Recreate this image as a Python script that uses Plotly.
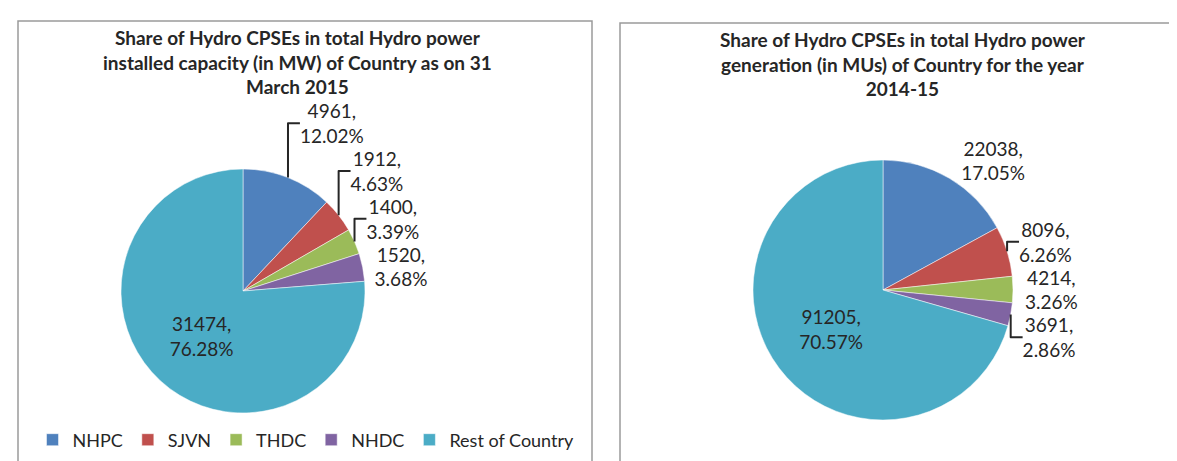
import plotly.graph_objects as go

categories = ["NHPC", "SJVN", "THDC", "NHDC", "Rest of Country"]
capacity_mw = [4961, 1912, 1400, 1520, 31474]
capacity_pct = [12.02, 4.63, 3.39, 3.68, 76.28]
generation_mu = [22038, 8096, 4214, 3691, 91205]
generation_pct = [17.05, 6.26, 3.26, 2.86, 70.57]
colors = ["#4F81BD", "#C0504D", "#9BBB59", "#8064A2", "#4BACC6"]

title_left = ["Share of Hydro CPSEs in total Hydro power",
              "installed capacity (in MW) of Country as on 31",
              "March 2015"]
title_right = ["Share of Hydro CPSEs in total Hydro power",
               "generation (in MUs) of Country for the year",
               "2014-15"]

W, H = 1177, 461
FONT = "Lato"
TXT = "#262626"


def px(x):
    return x / W


def py(y):
    return 1 - y / H


def pie(values, pcts, dom_x, dom_y, legend):
    return go.Pie(
        labels=categories, values=values, customdata=[f"{p:.2f}%" for p in pcts],
        sort=False, direction="clockwise", rotation=0,
        marker=dict(colors=colors, line=dict(color="white", width=0.5)),
        texttemplate="%{value:d},<br>%{customdata}",
        textposition=["outside", "outside", "outside", "outside", "inside"],
        insidetextorientation="horizontal",
        textfont=dict(family=FONT, size=19, color=TXT),
        domain=dict(x=dom_x, y=dom_y),
        legend=legend, showlegend=True, hoverinfo="label+value+percent",
    )


fig = go.Figure()
fig.add_trace(pie(capacity_mw, capacity_pct, [px(113), px(357)], [py(405), py(161)], "legend"))
fig.add_trace(pie(generation_mu, generation_pct, [px(745), px(1005)], [py(412), py(152)], "legend2"))

shapes = [
    dict(type="rect", xref="paper", yref="paper", x0=px(10), x1=px(584), y0=py(470), y1=py(13),
         line=dict(color="#9a9a9a", width=1.5), fillcolor="rgba(0,0,0,0)", layer="below"),
    dict(type="rect", xref="paper", yref="paper", x0=px(612), x1=px(1185), y0=py(470), y1=py(15),
         line=dict(color="#9a9a9a", width=1.5), fillcolor="rgba(0,0,0,0)", layer="below"),
]


def bold_lines(lines):
    return "<br>".join(f"<b>{s}</b>" for s in lines)


annotations = [
    dict(text=bold_lines(title_left), xref="paper", yref="paper",
         x=px(289), y=py(16), xanchor="center", yanchor="top", showarrow=False,
         font=dict(family=FONT, size=19, color=TXT), align="center"),
    dict(text=bold_lines(title_right), xref="paper", yref="paper",
         x=px(895), y=py(18), xanchor="center", yanchor="top", showarrow=False,
         font=dict(family=FONT, size=19, color=TXT), align="center"),
]

legend_common = dict(orientation="h", xanchor="center", yanchor="middle",
                     font=dict(family=FONT, size=18, color=TXT),
                     bgcolor="rgba(0,0,0,0)", itemwidth=30, traceorder="normal")

fig.update_layout(
    width=W, height=H, autosize=False,
    margin=dict(l=0, r=0, t=0, b=0),
    paper_bgcolor="white", plot_bgcolor="white",
    shapes=shapes, annotations=annotations,
    legend=dict(x=px(298), y=py(432), **legend_common),
    legend2=dict(x=px(904), y=py(438), **legend_common),
    font=dict(family=FONT),
)

fig.write_html("out.html")
